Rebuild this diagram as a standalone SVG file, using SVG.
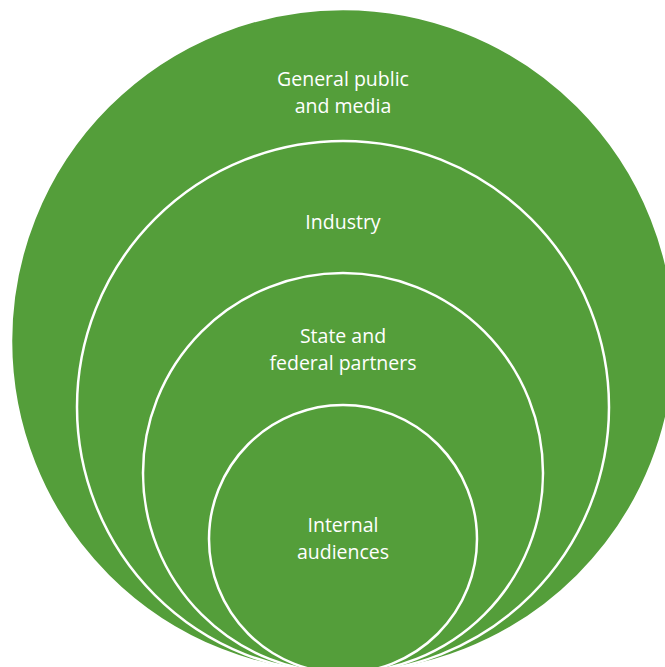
<svg xmlns="http://www.w3.org/2000/svg" width="665" height="667" viewBox="0 0 665 667">
<style>
.c{fill:#549E3A;stroke:#FFFFFF;stroke-width:2.5}
.t{fill:#FFFFFF;font-family:"Open Sans","Liberation Sans",sans-serif;font-size:19.5px;text-anchor:middle}
</style>
<rect width="665" height="667" fill="#FFFFFF"/>
<g id="general">
<circle class="c" cx="343" cy="341" r="332"/>
<text class="t" x="343" y="86">General public</text>
<text class="t" x="343" y="113">and media</text>
</g>
<g id="industry">
<circle class="c" cx="343" cy="407" r="266"/>
<text class="t" x="343" y="229">Industry</text>
</g>
<g id="state">
<circle class="c" cx="343" cy="473" r="200"/>
<text class="t" x="343" y="343">State and</text>
<text class="t" x="343" y="370">federal partners</text>
</g>
<g id="internal">
<circle class="c" cx="343" cy="539" r="134"/>
<text class="t" x="343" y="532">Internal</text>
<text class="t" x="343" y="559">audiences</text>
</g>
<g id="connectors"/>
</svg>
